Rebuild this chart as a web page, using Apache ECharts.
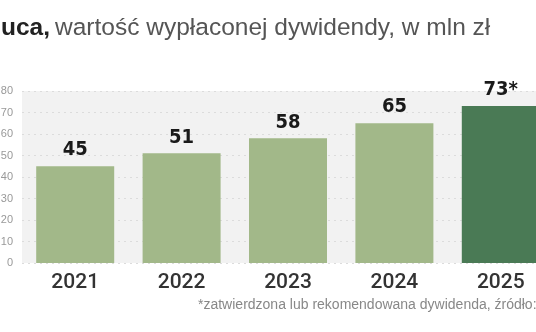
<!DOCTYPE html>
<html>
<head>
<meta charset="utf-8">
<script src="https://cdn.jsdelivr.net/npm/echarts@6/dist/echarts.min.js"></script>
<style>
    html, body { margin: 0; padding: 0; background: #fff; }
    #chart { width: 536px; height: 332px; }
</style>
</head>
<body>
<div id="chart"></div>
<script>
// lata i wartości dywidendy (mln zł)
var years = ['2021', '2022', '2023', '2024', '2025'];
var dividends = [45, 51, 58, 65, 73];
var valueLabels = ['45', '51', '58', '65', '73*'];
var yTicks = [0, 10, 20, 30, 40, 50, 60, 70, 80];

var lightGreen = '#a2b889';
var darkGreen = '#4a7a55';

var myChart = echarts.init(document.getElementById('chart'));

var barData = dividends.map(function (v, i) {
    return {
        value: v,
        itemStyle: { color: i === dividends.length - 1 ? darkGreen : lightGreen }
    };
});

var option = {
    animation: false,
    title: {
        text: '{b|uca,} {n|wartość wypłaconej dywidendy, w mln zł}',
        left: -4,
        top: 11,
        textStyle: {
            fontWeight: 'normal',
            rich: {
                b: { fontFamily: 'Liberation Sans', fontSize: 24.5, fontWeight: 'bold', color: '#222' },
                n: { fontFamily: 'Liberation Sans', fontSize: 24.5, fontWeight: 'normal', color: '#555' }
            }
        }
    },
    graphic: [{
        type: 'text',
        left: 198,
        top: 298,
        style: {
            text: '*zatwierdzona lub rekomendowana dywidenda, źródło: spółka',
            fontFamily: 'Liberation Sans',
            fontSize: 14,
            fill: '#888'
        }
    }],
    grid: {
        left: 22,
        width: 532,
        top: 91,
        bottom: 69,
        outerBoundsMode: 'none',
        show: true,
        backgroundColor: '#f2f2f2',
        borderWidth: 0
    },
    xAxis: {
        type: 'category',
        data: years,
        axisLine: { show: false },
        axisTick: { show: false },
        axisLabel: {
            margin: 9,
            fontFamily: 'Roboto',
            fontWeight: 500,
            fontSize: 21,
            color: '#333'
        }
    },
    yAxis: {
        type: 'value',
        min: yTicks[0],
        max: yTicks[yTicks.length - 1],
        interval: 10,
        axisLine: { show: false },
        axisTick: { show: false },
        axisLabel: {
            margin: 9,
            fontFamily: 'Liberation Sans',
            fontSize: 11,
            color: '#999'
        },
        splitLine: {
            lineStyle: { color: '#dcdcdc', type: [2, 4], width: 1 }
        }
    },
    series: [{
        type: 'bar',
        data: barData,
        barWidth: 78,
        label: {
            show: true,
            position: 'top',
            distance: 6,
            formatter: function (p) { return valueLabels[p.dataIndex]; },
            fontFamily: 'DejaVu Sans Condensed',
            fontWeight: 'bold',
            fontSize: 20,
            color: '#1a1a1a'
        }
    }]
};

myChart.setOption(option);
</script>
</body>
</html>
